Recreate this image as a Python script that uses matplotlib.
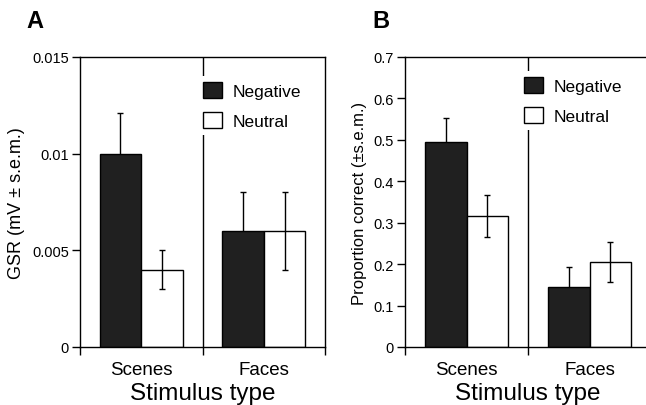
import matplotlib
matplotlib.use("Agg")
import matplotlib.pyplot as plt
from matplotlib.patches import Patch

plt.rcParams['font.family'] = ['Liberation Sans', 'DejaVu Sans']

# data
categories = ["Scenes", "Faces"]
series = ["Negative", "Neutral"]

gsr_negative = [0.0100, 0.0060]
gsr_negative_err = [0.0021, 0.0020]
gsr_neutral = [0.0040, 0.0060]
gsr_neutral_err = [0.0010, 0.0020]

prop_negative = [0.495, 0.146]
prop_negative_err = [0.057, 0.046]
prop_neutral = [0.316, 0.205]
prop_neutral_err = [0.051, 0.049]

gsr_ticks = [0, 0.005, 0.01, 0.015]
gsr_ticklabels = ["0", "0.005", "0.01", "0.015"]
prop_ticks = [0, 0.1, 0.2, 0.3, 0.4, 0.5, 0.6, 0.7]
prop_ticklabels = ["0", "0.1", "0.2", "0.3", "0.4", "0.5", "0.6", "0.7"]

DARK = "#202020"
W, H = 646, 406


def panel(ax, neg, neg_err, neu, neu_err, ticks, ticklabels, ylabel, ylsize,
          letter, leg_xy):
    pos = [0.5, 1.5]
    bw = 0.34
    xn = [p - bw / 2 for p in pos]
    xu = [p + bw / 2 for p in pos]
    # the dark bars hide the lower half of their own error bars
    ax.errorbar(xn, neg, yerr=neg_err, fmt="none", ecolor="black",
                elinewidth=1, capsize=2.3, capthick=1, zorder=1.5)
    ax.bar(xn, neg, bw, color=DARK, edgecolor="black", linewidth=1, zorder=2)
    ax.bar(xu, neu, bw, color="white", edgecolor="black", linewidth=1, zorder=2)
    ax.errorbar(xu, neu, yerr=neu_err, fmt="none", ecolor="black",
                elinewidth=1, capsize=2.3, capthick=1, zorder=3)
    ax.axvline(1, color="black", lw=1, zorder=1)

    ax.set_xlim(0, 2)
    ax.set_ylim(ticks[0], ticks[-1])
    ax.set_yticks(ticks)
    ax.set_yticklabels(ticklabels, fontsize=10.5)
    ax.set_xticks([0, 1, 2])
    ax.set_xticklabels(["", "", ""])
    ax.set_xticks(pos, minor=True)
    ax.set_xticklabels(categories, minor=True, fontsize=13.5)
    ax.tick_params(axis="x", which="major", direction="out", length=6, width=1)
    ax.tick_params(axis="x", which="minor", length=0, pad=10)
    ax.tick_params(axis="y", direction="out", length=6, width=1, pad=2)
    for s in ax.spines.values():
        s.set_linewidth(1)
    ax.set_ylabel(ylabel, fontsize=ylsize, labelpad=5)
    ax.set_xlabel("Stimulus type", fontsize=17.5, labelpad=3)

    handles = [Patch(facecolor=DARK, edgecolor="black", linewidth=1),
               Patch(facecolor="white", edgecolor="black", linewidth=1)]
    leg = ax.legend(handles, series, loc="upper left",
                    bbox_to_anchor=(leg_xy[0] / W, 1 - leg_xy[1] / H),
                    bbox_transform=ax.figure.transFigure,
                    fontsize=12.5, frameon=True, fancybox=False,
                    handlelength=1.1, handleheight=1.05, handletextpad=0.6,
                    labelspacing=0.75, borderpad=0.35, borderaxespad=0)
    leg.get_frame().set_facecolor("white")
    leg.get_frame().set_edgecolor("none")
    leg.get_frame().set_alpha(1)

    ax.figure.text(letter[1] / W, 1 - letter[2] / H, letter[0],
                   fontsize=17, fontweight="bold", va="top", ha="left")


fig = plt.figure(figsize=(W / 100, H / 100), dpi=100)
axA = fig.add_axes([80 / W, (H - 348) / H, 245 / W, 290 / H])
axB = fig.add_axes([405 / W, (H - 348) / H, 246 / W, 290 / H])

panel(axA, gsr_negative, gsr_negative_err, gsr_neutral, gsr_neutral_err,
      gsr_ticks, gsr_ticklabels, "GSR (mV \u00b1 s.e.m.)", 13,
      ("A", 26, 10), (197, 77))
panel(axB, prop_negative, prop_negative_err, prop_neutral, prop_neutral_err,
      prop_ticks, prop_ticklabels, "Proportion correct (\u00b1s.e.m.)", 12,
      ("B", 372, 10), (518, 72))

fig.savefig("out.png", dpi=100)
